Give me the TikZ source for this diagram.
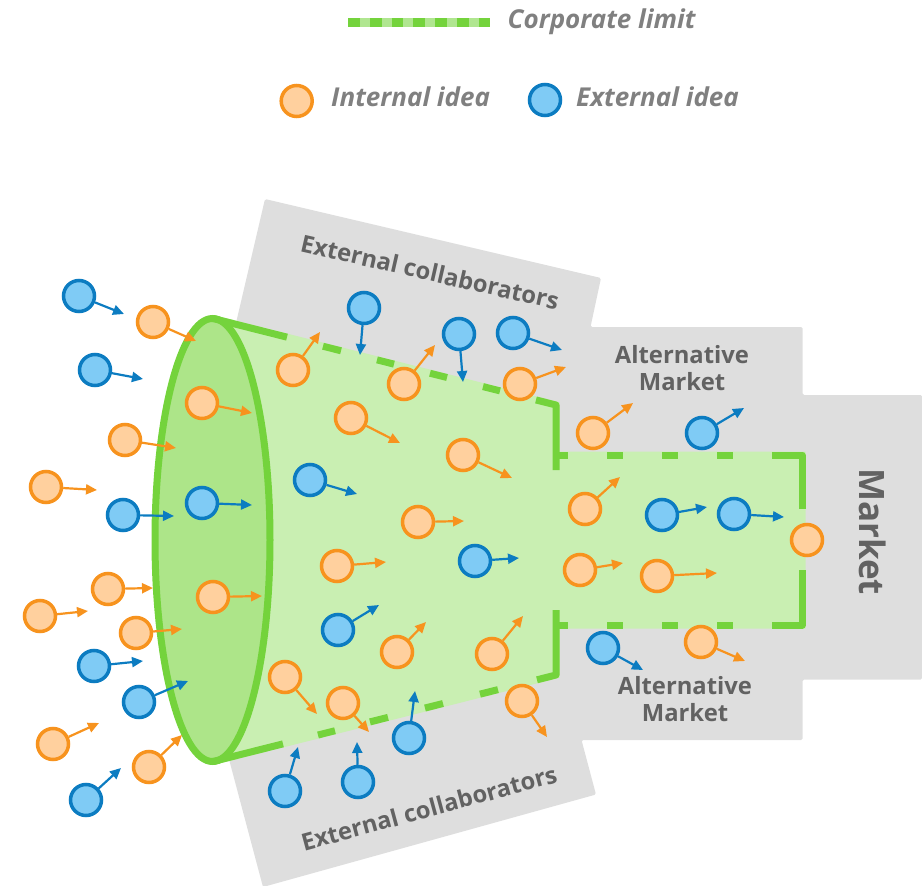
\documentclass[tikz,border=0pt]{standalone}
\usepackage{fontspec}
\setmainfont{Open Sans}
\usetikzlibrary{arrows.meta,calc}
\definecolor{gline}{HTML}{74D33C}
\definecolor{ffill}{HTML}{C9EFB2}
\definecolor{efill}{HTML}{ADE589}
\definecolor{leglight}{HTML}{B0E690}
\definecolor{panel}{HTML}{DEDEDE}
\definecolor{ostroke}{HTML}{F7931E}
\definecolor{ofill}{HTML}{FFD09E}
\definecolor{bstroke}{HTML}{0C7CC1}
\definecolor{bfill}{HTML}{7FCBF5}
\definecolor{lblgrey}{HTML}{626262}
\definecolor{leggrey}{HTML}{808080}
\newcommand\oidea[3]{\node[intl] (#1) at (#2) {}; \coordinate (#1t) at (#3); \draw[oarr] (#1) -- (#1t);}
\newcommand\bidea[3]{\node[extl] (#1) at (#2) {}; \coordinate (#1t) at (#3); \draw[barr] (#1) -- (#1t);}
\begin{document}
\begin{tikzpicture}[x=1pt,y=-1pt,
  idea/.style={circle,minimum size=31pt,inner sep=0pt,line width=3.5pt},
  intl/.style={idea,draw=ostroke,fill=ofill},
  extl/.style={idea,draw=bstroke,fill=bfill},
  oarr/.style={draw=ostroke,line width=2.2pt,-{Triangle[length=11pt,width=10pt]}},
  barr/.style={draw=bstroke,line width=2.2pt,-{Triangle[length=11pt,width=10pt]}},
  gseg/.style={draw=gline,line width=7pt,line join=round},
  lbl/.style={text=lblgrey,font=\bfseries\fontsize{23.8}{28}\selectfont,inner sep=0pt},
  leg/.style={text=leggrey,font=\bfseries\itshape\fontsize{26}{30}\selectfont,inner sep=0pt}]
\useasboundingbox (0,0) rectangle (922,886);

% grey panels
\fill[panel,rounded corners=1.5pt] (265,199) -- (601,278) -- (590.5,327) -- (802.5,327) -- (802.5,395) -- (922,395) -- (922,679.5) -- (802.5,679.5) -- (802.5,740) -- (581.5,740) -- (596,794.5) -- (263,887) -- (230,763) -- (186,600) -- (218,400) -- cycle;

% funnel body
\fill[ffill] (213,318.5) -- (556,405) -- (556,455) -- (802,455) -- (802,625) -- (556,625) -- (556,675) -- (213,761.5) -- cycle;
\draw[draw=ffill,line width=7pt,line join=miter] (213,318.5) -- (556,405) -- (556,455) -- (802,455) -- (802,625) -- (556,625) -- (556,675) -- (213,761.5);

% mouth
\filldraw[fill=efill,draw=gline,line width=7pt] (212.5,540) ellipse [x radius=57.5pt, y radius=221.5pt];

% top edge
\draw[gseg] (213,318.5) -- (287,337.16);
\draw[gseg] (323,346.24) -- (341,350.78);
\draw[gseg] (377,359.86) -- (394,364.15);
\draw[gseg] (430,373.23) -- (447,377.51);
\draw[gseg] (483,386.6) -- (500,390.88);
\draw[gseg] (536,399.96) -- (556,405) -- (556,470);
% inner rectangle
\draw[gseg] (556,455) -- (568,455);
\draw[gseg] (607,455) -- (623,455);
\draw[gseg] (662,455) -- (678,455);
\draw[gseg] (717,455) -- (733,455);
\draw[gseg] (772,455) -- (802,455) -- (802,509);
\draw[gseg] (802,570) -- (802,625) -- (772,625);
\draw[gseg] (717,625) -- (733,625);
\draw[gseg] (662,625) -- (678,625);
\draw[gseg] (607,625) -- (623,625);
\draw[gseg] (556,625) -- (568,625);
\draw[gseg] (556,610) -- (556,675) -- (537,679.8);
% bottom edge
\draw[gseg] (480,694.16) -- (498,689.62);
\draw[gseg] (425,708.03) -- (443,703.5);
\draw[gseg] (370,721.9) -- (388,717.37);
\draw[gseg] (318,735.02) -- (335,730.73);
\draw[gseg] (213,761.5) -- (283,743.85);

% labels
\node[lbl,rotate=-12.8] (ecTop) at (430,272) {External collaborators};
\node[lbl,rotate=15.2] (ecBot) at (429,808) {External collaborators};
\node[lbl,anchor=base] (amTop1) at (682,363.3) {Alternative};
\node[lbl,anchor=base] (amTop2) at (682,390.7) {Market};
\node[lbl,anchor=base] (amBot1) at (685,694) {Alternative};
\node[lbl,anchor=base] (amBot2) at (685,721.7) {Market};
\node[lbl,font=\bfseries\fontsize{35}{41}\selectfont,rotate=-90] (mkt) at (872.5,531.5) {Market};

% legend
\draw[line width=9pt,draw=leglight] (348.3,22.8) -- (490,22.8);
\draw[line width=9pt,draw=gline,dash pattern=on 11.7pt off 10pt] (348.3,22.8) -- (490,22.8);
\node[leg,anchor=base west] (legCL) at (507.5,28.3) {Corporate limit};
\node[intl] (legI) at (296.7,101) {};
\node[leg,anchor=base west] (legIT) at (331,106.7) {Internal idea};
\node[extl] (legE) at (545,100) {};
\node[leg,anchor=base west] (legET) at (576,106.7) {External idea};

% ideas
\oidea{o1}{153,322}{196,341}
\oidea{o2}{202,403}{252,413}
\oidea{o3}{125,440}{176,448}
\oidea{o4}{46,487}{97,490}
\oidea{o5}{293,370}{320,332}
\oidea{o6}{404,384}{435,345}
\oidea{o7}{520,384}{566,367}
\oidea{o8}{351,418}{400,443}
\oidea{o9}{463,455}{512,478}
\oidea{o10}{418,522}{464,521}
\oidea{o11}{593,433}{633,403}
\oidea{o12}{585,509}{620,477}
\node[intl] (o13) at (807,540) {};
\oidea{o14}{108,589}{153,588}
\oidea{o15}{40,616}{88,611}
\oidea{o16}{213,597}{262,596}
\oidea{o17}{136,633}{182,629}
\oidea{o18}{53,744}{99,723}
\oidea{o19}{149,767}{182,735}
\oidea{o20}{285,677}{317,714}
\oidea{o21}{337,566}{386,562}
\oidea{o22}{580,570}{623,563}
\oidea{o23}{397,652}{426,622}
\oidea{o24}{492,654}{523,616}
\oidea{o25}{343,703}{369,732}
\oidea{o26}{522,701}{547,737}
\oidea{o27}{657,576}{717,573}
\oidea{o28}{701,642}{745,661}

\bidea{b1}{79,296}{124,314}
\bidea{b2}{95,370}{143,379}
\bidea{b3}{123,515}{174,516}
\bidea{b4}{202,503}{252,505}
\bidea{b5}{364,308}{360,355}
\bidea{b6}{459,334}{463,382}
\bidea{b7}{513,333}{562,350}
\bidea{b8}{310,480}{357,494}
\bidea{b9}{702,433}{744,408}
\bidea{b10}{662,515}{707,507}
\bidea{b11}{734,514}{784,517}
\bidea{b12}{94,666}{143,661}
\bidea{b13}{139,702}{188,681}
\bidea{b14}{86,800}{121,768}
\bidea{b15}{285,791}{298,747}
\bidea{b16}{475,561}{519,558}
\bidea{b17}{338,630}{379,605}
\bidea{b18}{409,738}{415,691}
\bidea{b19}{358,782}{357,742}
\bidea{b20}{603,648}{643,670}
\end{tikzpicture}
\end{document}
